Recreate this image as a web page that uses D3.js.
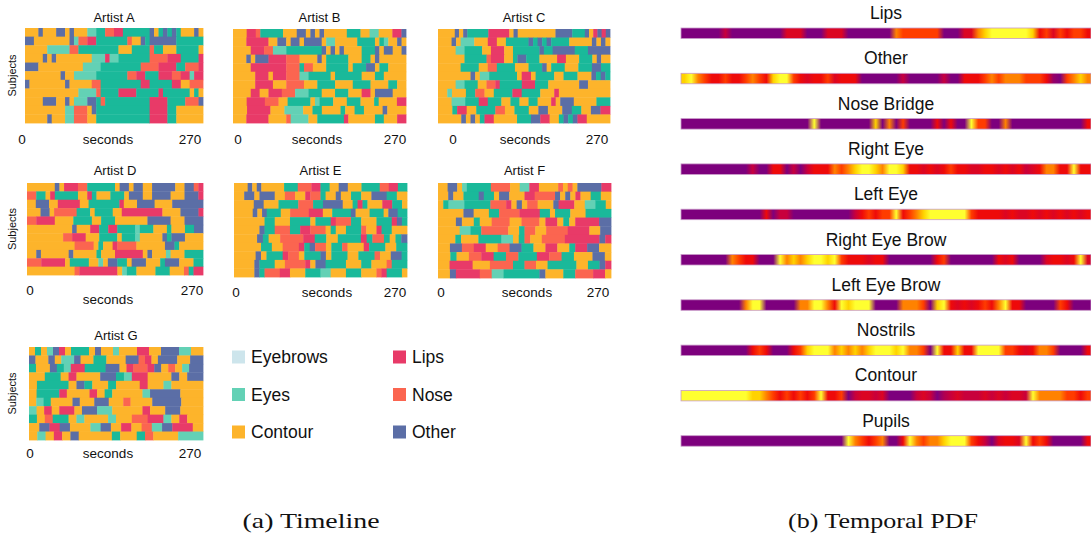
<!DOCTYPE html>
<html>
<head>
<meta charset="utf-8">
<script src="https://cdn.jsdelivr.net/npm/d3@7"></script>
<style>
  body { margin: 0; background: #fff; }
  svg { display: block; }
  text { font-family: "Liberation Sans", Arial, sans-serif; fill: #111; }
  .cap { font-family: "Liberation Serif", "DejaVu Serif", serif; }
</style>
</head>
<body>
<div class="draw"></div>
<script>
// timeline codes: Y contour, T teal, M eyes, L lips, N nose, O other
var artistNames = ['Artist A', 'Artist B', 'Artist C', 'Artist D', 'Artist E', 'Artist F', 'Artist G'];

var rowsA = [
  'YYYOYYYOOYOYYYMMTTNNLLTTTTTTOYTOTOTYYYOY',
  'OOYYYYYYYYOMNNLLTTTTTTTNYYOTOOOOOOTTTTTT',
  'YYYYYMMMMMNNTTTTTTTTTYYYTTTTNTTYYYTTTTTY',
  'YYYYOYOYYYYYYYYMMMLMMTTTTTTTNNNNLLLTTTTL',
  'OOOYYYYYYYYYYMMMMTTTTTTTTTNNNNLLLLTTNNNL',
  'YYYYYYYYOYYMMMMMTTTTTTTNNLLTTTLLLNNLLMLL',
  'OYYYYYYYYOYYYYYNNTTTTTTTTTLLTTTTTLLYYNNN',
  'YYYYYYYYYYYYMMMMNTTTTLLLLTTTTTLTTTTTTYTY',
  'YYYYOOOYYOYMMMOOTNTTTTTTTTTTLLLLTTTTNNNO',
  'YYYYYYYYYMMNNNYOTTTTTTTTTTTTLLLLTTYYYYYY',
  'YYYYYOYYYMMNNNYYTTTTTTTTTTTTLLLLTTYYYYYY'
];
var rowsB = [
  'YYYLLNTTTTTYYYOOYOYOYYYYYTTTYYMMYYYLLO',
  'YYYLLLLLYYOOYOOYOOOOYMMYYYYYTTTTYTMYYOY',
  'YYYYLLLNNMMMTTTTTTTTOYOYOYYYYTTTOYOOYYO',
  'YYYOYOOOLLLLNNNYYYYOYTTTTTYYYTTYOYYYYYY',
  'YYYYLLLLLLLLNNNTNNYYYTTTTTYTTTOOYTTYYYY',
  'YYYYYLLLYLLLNNNMMTTTTTYTTTTTTYYYTTYYYYY',
  'YYYYYLLLLYYYNNNNYYYTTTTYYYYTTTTYYYYTTYY',
  'YYYYLLYYLLLNNNMMMTTTYYYTTTYYYLLYOOOOYYY',
  'YYYLLLLNNNYYTTTTTYMTTTYYYTTTYYYTYYYYLL',
  'YYYLLLLLYYYMMMMYYTTYYYYTYYTTYYYYOYYYY',
  'YYYLLLLLYYYYNMMMMYYTTTTTTLYYYYYYTTYYYLL'
];
var rowsC = [
  'YYYYOYOTTTTTLLLLLYOYYYYYYYYYOOOOTTTOYLOLO',
  'YYYOYMMMYYYLLYYTTTTTOTOTOTTTTYYYYYOYOY',
  'YYYYMMTTTTYYLLLYYTTTTTTOTTOOOOOTTTOOOOO',
  'YYYYYYTTTTTNLLLYYTOOTTTYYYYLLYYYTTTYOYY',
  'YYYYYTTTTYYNNTTTTYYYTTTOYTTTYYYTTTOOTT',
  'YYYYYYYOYMMTTTTTTYLLYTTTTYYTTTYYYOTOT',
  'YYYYMMTTTYYNNLTTTTTLLLTTTYYYYYYYOOYYYYY',
  'YYMYYYTTNNYYTTTTLLTTTTYYYLYYYYYYYYYYY',
  'YYYMMMTTTLLTTTYYTTYYTTYYYLYOOOYYYYYTTT',
  'YYYTLLYYTTTTNNYYTTTYYOOYYYOOTTYYOOLL',
  'YYYYYOYOYTLLYYYYYTTTOOLLYYTOTOLLYYYYY'
];
var rowsD = [
  'YYYYYYOYLLLNNTTTTTTYOOYOOYYOOOOOYYOONL',
  'NNTTYLTTTTTYYLTYYYTTTYOOOYYOOOOYYYOOOL',
  'YYOOOYYLLLLLYYTTTTTTTLYYYOOOOYYYYOOOOOOO',
  'YYYOOYNNNNNTTTYTTTTYYLLLLLLLLLYYYYOOOOL',
  'NNLLLLYYYYTTTTYYTTTYYYYYYYOOOOOYYYOOOO',
  'YYYYYYYYYYOYYYLLTTLLTTTTMTTTYYYTYYYTTOO',
  'YYYYYYYYNNLLLYYYTTTTYTTTMYYYYYOTOOOYYYY',
  'YYYYYYYYYYNNNNYTYYLNNNNYYYYYYOOTYYYYY',
  'YYOYYYYYYOYYYYYTYYYLLLLLLYOYYYMYYYTTTT',
  'NNNLLLLLYTTTTYYMYOOTTYOOOYYYTOOOYYYTT',
  'YYYYYYYYYYNLLLLLLLLYMTTYYYYTTTYYYNTLL'
];
var rowsE = [
  'YYYOYOYYYYYTTTNNNLLTTYYOOYYYTTTTNNLLTT',
  'YYOOYOOOYYNNYYLNNTYYOYYTTYYOOOTTYY',
  'YYYYOOYYYTTTTNNNTTOOOOYYTLTYYYLLTTY',
  'YYYYOYOTTTYYNNNNLLLYYTTTTOYYYTTTYOOTT',
  'YYYYYYTTYYYTTTTYTTTLNNNTTYYYTTTLOT',
  'YYYYYOTTNNNTTLLNNNYTYYTTTNYYLTTYYY',
  'YYYYOTYYNNNNLLTTYYTTTTLTNNTYTO',
  'YYYYYTTYYNNNLTONNYTTNYYYLTTTYYTT',
  'YYYYOYTTTLNNYTTTOYTTTYYTTTNYYOOT',
  'YYYYOTTTYYNNNNLYOOTTTTYYYTTYYYNTTT',
  'YYYYOTNNNLLYYYTTTMMYYYTTTYYYNLTTTY'
];
var rowsF = [
  'YYOOYMTTTTTNNNNYYMMLLYYYYNYNYOOOOOLL',
  'YYOYYTTTOTTYOOYYYLLNNNNOYOYLYYTTYY',
  'YTMMMTTTTTNNNLYOYNNYYYOLLLYYMMTTY',
  'YYYYYOOYYYTTNNNNLLLLTTYTTTYYYTTTTT',
  'YYYOYYTYYNNNYYNNNYLLYTYLLLLOO',
  'YYYYMMTTNNNNNYYTNNYYNNNNLLLLYYOO',
  'YYYTYYYTTTTMMYTNYYNNNNLLLLLLOL',
  'YYOONNLLYYNNOOTTYYLLYYTLLOOYY',
  'YYTYYNNLLTTNNTTTLLNNTTYYYOOY',
  'YYLLLLYYYNNNNTTNNYYTTTTTYYTTOL',
  'YYOLLLLNNMMTTTTTTOYYYTTNNNLLY'
];
var rowsG = [
  'YTYMOLYTTTYOYYMYYYLLYYOOOMMYY',
  'OYYOYMMOYYTTYYYOONLYOOOYYOO',
  'TYYOTMLLTTTOOYLNNLOYNYMOO',
  'YYTTYLYYYOOTMLLYYYOYOO',
  'YTTTTYOTYYTYYYLYYMYYYY',
  'YTTTLYYYLYTYYYYMOOOOYYY',
  'YMTYYYOYYOOYYNYYYOOOOYYY',
  'MYLYLLYOOMMYYYYLYYOOYYY',
  'TYNTTYMYYYMYYNNLLMYLYY',
  'YOLOYYMOYLYNMOLLY',
  'YMYLYOYYYYTYYTNYYYMMM'
];
var artistRows = [rowsA, rowsB, rowsC, rowsD, rowsE, rowsF, rowsG];

var codeColors = { Y: '#fdb42b', T: '#1ab99a', M: '#63d1b5', L: '#e83a68', N: '#fb6550', O: '#5b6ea6' };

var legendNames = ['Eyebrows', 'Eyes', 'Contour', 'Lips', 'Nose', 'Other'];
var legendColors = ['#cde5ec', '#63d1b5', '#fdb42b', '#e83a68', '#fb6550', '#5b6ea6'];

var xTicks = ['0', 'seconds', '270'];

// temporal pdf: one digit per time bin, 0 = low ... 9 = high
var pdfNames = ['Lips', 'Other', 'Nose Bridge', 'Right Eye', 'Left Eye', 'Right Eye Brow', 'Left Eye Brow', 'Nostrils', 'Contour', 'Pupils'];
var pdfLevels = [
  '000000300000000444000444000000076666660004478999999856465665',
  '897655655676589965455645550000003000003005556767776665106787',
  '000000000000000000090000000080706000050500966007000000000005',
  '000000000030055030355576789987998554545655445545453457755955',
  '000000000000503300000000035656695678999999655554544545454545',
  '000000076550009787899896555455000000056000000054500004554594',
  '000000000799000007799759899900007776089545456579550000065000',
  '000000000056500056899978787899989776095585599996654577600005',
  '999999999988765656569556034434000034302343334343443977776656',
  '000000000000000000000000976567005976778999653045549565000005'
];

var W = 1091, H = 537;

// panel geometry
var panels = [
  { x0: 25, x1: 203, y0: 28, y1: 123, titleY: 22, labY: 144, subj: true, labs: [22, 108, 190], secY: 144 },
  { x0: 233, x1: 406, y0: 29, y1: 123, titleY: 22, labY: 144, subj: false, labs: [238, 317, 395], secY: 144 },
  { x0: 438, x1: 610, y0: 29, y1: 123, titleY: 22, labY: 144, subj: false, labs: [453, 525, 597], secY: 144 },
  { x0: 27, x1: 203, y0: 183, y1: 275, titleY: 175, labY: 295, subj: true, labs: [30, 108, 192], secY: 304 },
  { x0: 234, x1: 407, y0: 183, y1: 277, titleY: 175, labY: 297, subj: false, labs: [236, 327, 395], secY: 297 },
  { x0: 438, x1: 611, y0: 183, y1: 278, titleY: 175, labY: 297, subj: false, labs: [441, 527, 598], secY: 297 },
  { x0: 29, x1: 203, y0: 347, y1: 440, titleY: 340, labY: 458, subj: true, labs: [30, 108, 190], secY: 458 }
];

var svg = d3.select('.draw').append('svg')
  .attr('width', W).attr('height', H)
  .attr('viewBox', [0, 0, W, H].join(' '));
var defs = svg.append('defs');

// runs of equal codes
function runs(str) {
  var out = [];
  var start = 0;
  for (var i = 1; i <= str.length; i++) {
    if (i === str.length || str[i] !== str[start]) {
      out.push({ c: str[start], a: start, b: i });
      start = i;
    }
  }
  return out;
}

artistRows.forEach(function(rows, k) {
  var p = panels[k];
  var g = svg.append('g');
  var y = d3.scaleBand().domain(d3.range(rows.length)).range([p.y0, p.y1]);

  rows.forEach(function(row, r) {
    var x = d3.scaleLinear().domain([0, row.length]).range([p.x0, p.x1]);
    g.selectAll('rect.r' + r).data(runs(row)).enter().append('rect')
      .attr('class', 'r' + r)
      .attr('x', function(d) { return x(d.a); })
      .attr('width', function(d) { return x(d.b) - x(d.a) + 0.4; })
      .attr('y', y(r))
      .attr('height', y.bandwidth() + 0.4)
      .attr('fill', function(d) { return codeColors[d.c]; });
  });

  var cx = (p.x0 + p.x1) / 2;
  g.append('text').attr('x', cx).attr('y', p.titleY)
    .attr('text-anchor', 'middle').style('font-size', '13px').text(artistNames[k]);

  if (p.subj) {
    g.append('text')
      .attr('transform', 'translate(' + 16 + ',' + ((p.y0 + p.y1) / 2) + ') rotate(-90)')
      .attr('text-anchor', 'middle').style('font-size', '11px').text('Subjects');
  }

  xTicks.forEach(function(t, i) {
    g.append('text').attr('x', p.labs[i]).attr('y', i === 1 ? p.secY : p.labY)
      .attr('text-anchor', 'middle').style('font-size', '13.5px').text(t);
  });
});

// legend
var leg = svg.append('g');
legendNames.forEach(function(name, i) {
  var col = Math.floor(i / 3), row = i % 3;
  var lx = 232 + col * 161, ly = 357 + row * 37.5;
  leg.append('rect').attr('x', lx).attr('y', ly - 6.5).attr('width', 13).attr('height', 13)
    .attr('fill', legendColors[i]);
  leg.append('text').attr('x', lx + 19).attr('y', ly + 6)
    .style('font-size', '17.5px').text(name);
});

// temporal pdf bars, smoothed through a gradient of the colour scale
var pdfColor = d3.scaleLinear()
  .domain([0, 3, 5, 6, 7, 8, 9])
  .range(['#7d007d', '#c8003c', '#ee0a0a', '#ff3c00', '#ff8200', '#ffd200', '#ffff30']);

var pdfY = d3.scaleLinear().domain([0, 1]).range([28, 73.3]);
var pdfX = d3.scaleLinear().domain([0, 1]).range([681, 1091]);
var pg = svg.append('g');
pdfLevels.forEach(function(str, i) {
  var vals = str.split('').map(Number);
  var grad = defs.append('linearGradient').attr('id', 'pdf' + i)
    .attr('gradientUnits', 'userSpaceOnUse')
    .attr('x1', pdfX(0)).attr('x2', pdfX(1)).attr('y1', 0).attr('y2', 0);
  grad.selectAll('stop').data(vals).enter().append('stop')
    .attr('offset', function(d, j) { return (j + 0.5) / vals.length; })
    .attr('stop-color', function(d) { return pdfColor(d); });
  var top = pdfY(i);
  pg.append('rect').attr('x', pdfX(0)).attr('y', top)
    .attr('width', pdfX(1) - pdfX(0)).attr('height', 10.5)
    .attr('fill', 'url(#pdf' + i + ')')
    .attr('stroke', '#c99ac9').attr('stroke-width', 0.8);
  pg.append('text').attr('x', 886).attr('y', top - 9)
    .attr('text-anchor', 'middle').style('font-size', '17.5px').text(pdfNames[i]);
});

// captions
svg.append('text').attr('class', 'cap').attr('x', 311).attr('y', 528)
  .attr('text-anchor', 'middle').style('font-size', '21px')
  .attr('textLength', 137).attr('lengthAdjust', 'spacingAndGlyphs').text('(a)  Timeline');
svg.append('text').attr('class', 'cap').attr('x', 883).attr('y', 528)
  .attr('text-anchor', 'middle').style('font-size', '21px')
  .attr('textLength', 190).attr('lengthAdjust', 'spacingAndGlyphs').text('(b)  Temporal PDF');
</script>
</body>
</html>
